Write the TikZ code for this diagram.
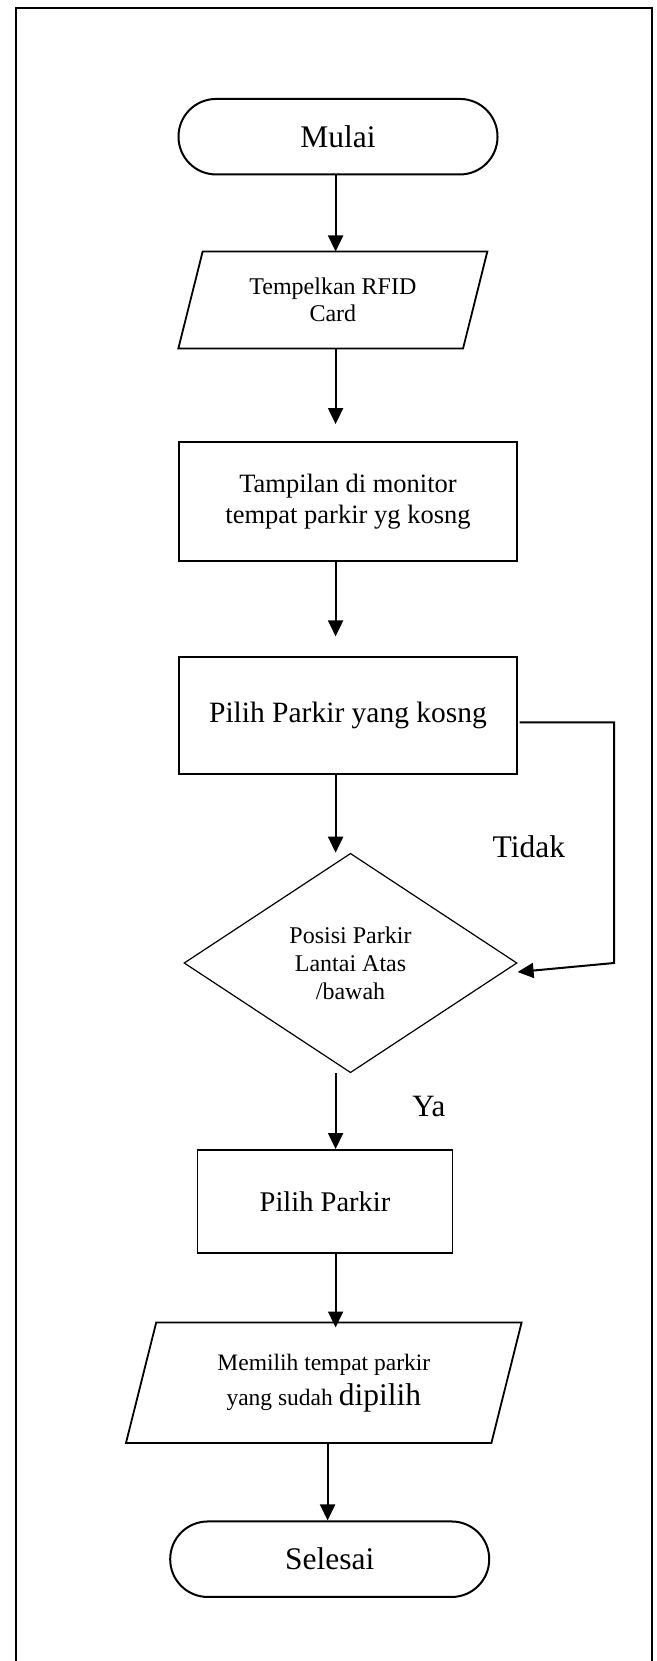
\documentclass[tikz,border=0pt]{standalone}
\usepackage{fontspec}
\setmainfont{Liberation Serif}
\usetikzlibrary{arrows.meta,shapes.geometric}

\newcommand{\fs}[2]{\fontsize{#1}{#2}\selectfont}
% slanted outline round a rectangular node: #1 node name, #2 half the slant
\newcommand{\slantbox}[2]{%
  \draw[line width=1.8pt, line join=miter]
    ([xshift=#2]#1.north west) -- ([xshift=#2]#1.north east) --
    ([xshift=-#2]#1.south east) -- ([xshift=-#2]#1.south west) -- cycle;}

\tikzset{
  base/.style={draw, inner sep=0pt, align=center, text=black},
  terminal/.style={base, rectangle, rounded corners=37.6pt, line width=2pt,
    minimum width=319pt, minimum height=75.5pt},
  process/.style={base, rectangle, line width=1.8pt},
  io/.style={inner sep=0pt, align=center, text=black, rectangle},
  decision/.style={base, diamond, aspect=1.5, line width=1.2pt,
    minimum width=333pt, minimum height=219.4pt},
  arrow/.style={line width=2pt, -{Triangle[width=15pt,length=16pt]}},
  lbl/.style={inner sep=0pt}
}

\begin{document}
\begin{tikzpicture}[x=1pt, y=-1pt]
  \useasboundingbox (0,0) rectangle (656,1661);
  \clip (0,0) rectangle (656,1661);

  % frame (open at the bottom edge of the page)
  \draw[line width=2pt] (16,1675) -- (16,8) -- (652.3,8) -- (652.3,1675);

  % arrow columns
  \coordinate (spine) at (335.6,0);
  \coordinate (spinelow) at (327.6,0);
  \coordinate (bend) at (614,963);

  % flowchart nodes
  \node[terminal, font=\fs{31.5}{36}] (mulai) at (338,136.7) {Mulai};
  \node[io, minimum width=284.3pt, minimum height=96.6pt, font=\fs{24}{27}]
    (rfid) at (332.85,300) {Tempelkan RFID\\Card};
  \slantbox{rfid}{12.15pt}
  \node[process, minimum width=338.5pt, minimum height=118.4pt, font=\fs{26.5}{31}]
    (tampil) at (348,501.5) {Tampilan di monitor\\tempat parkir yg kosng};
  \node[process, minimum width=338.5pt, minimum height=117.6pt, font=\fs{29.5}{34}]
    (kosong) at (348,715.5) {Pilih Parkir yang kosng};
  \node[decision, font=\fs{24}{28}]
    (posisi) at (350.5,963) {Posisi Parkir\\Lantai Atas\\/bawah};
  \node[process, minimum width=254.9pt, minimum height=102.7pt, font=\fs{28.5}{33}]
    (pilih) at (325,1201.3) {Pilih Parkir};
  \node[io, minimum width=365pt, minimum height=120pt, font=\fs{23.5}{35}]
    (memilih) at (323.8,1382.7) {Memilih tempat parkir\\yang sudah {\fs{31.5}{35}dipilih}};
  \slantbox{memilih}{15.1pt}
  \node[terminal, font=\fs{31.5}{36}] (selesai) at (329.7,1559.2) {Selesai};

  % branch labels
  \node[lbl, font=\fs{31.5}{36}] (tidak) at (528.8,846.7) {Tidak};
  \node[lbl, font=\fs{31}{36}] (ya) at (428.9,1106.7) {Ya};

  % connectors
  \draw[arrow] (mulai.south -| spine) -- (rfid.north -| spine);
  \draw[arrow, shorten >=17.3pt] (rfid.south -| spine) -- (tampil.north -| spine);
  \draw[arrow, shorten >=19.4pt] (tampil.south -| spine) -- (kosong.north -| spine);
  \draw[arrow] (kosong.south -| spine) -- (posisi.north -| spine);
  \draw[arrow] (posisi.south -| spine) -- (pilih.north -| spine);
  \draw[arrow, shorten >=-5pt] (pilih.south -| spine) -- (memilih.north -| spine);
  \draw[arrow] (memilih.south -| spinelow) -- (selesai.north -| spinelow);
  \draw[arrow] ([xshift=1.5pt,yshift=-6.8pt]kosong.east) -| (bend) -- ([yshift=-9pt]posisi.east);
\end{tikzpicture}
\end{document}
